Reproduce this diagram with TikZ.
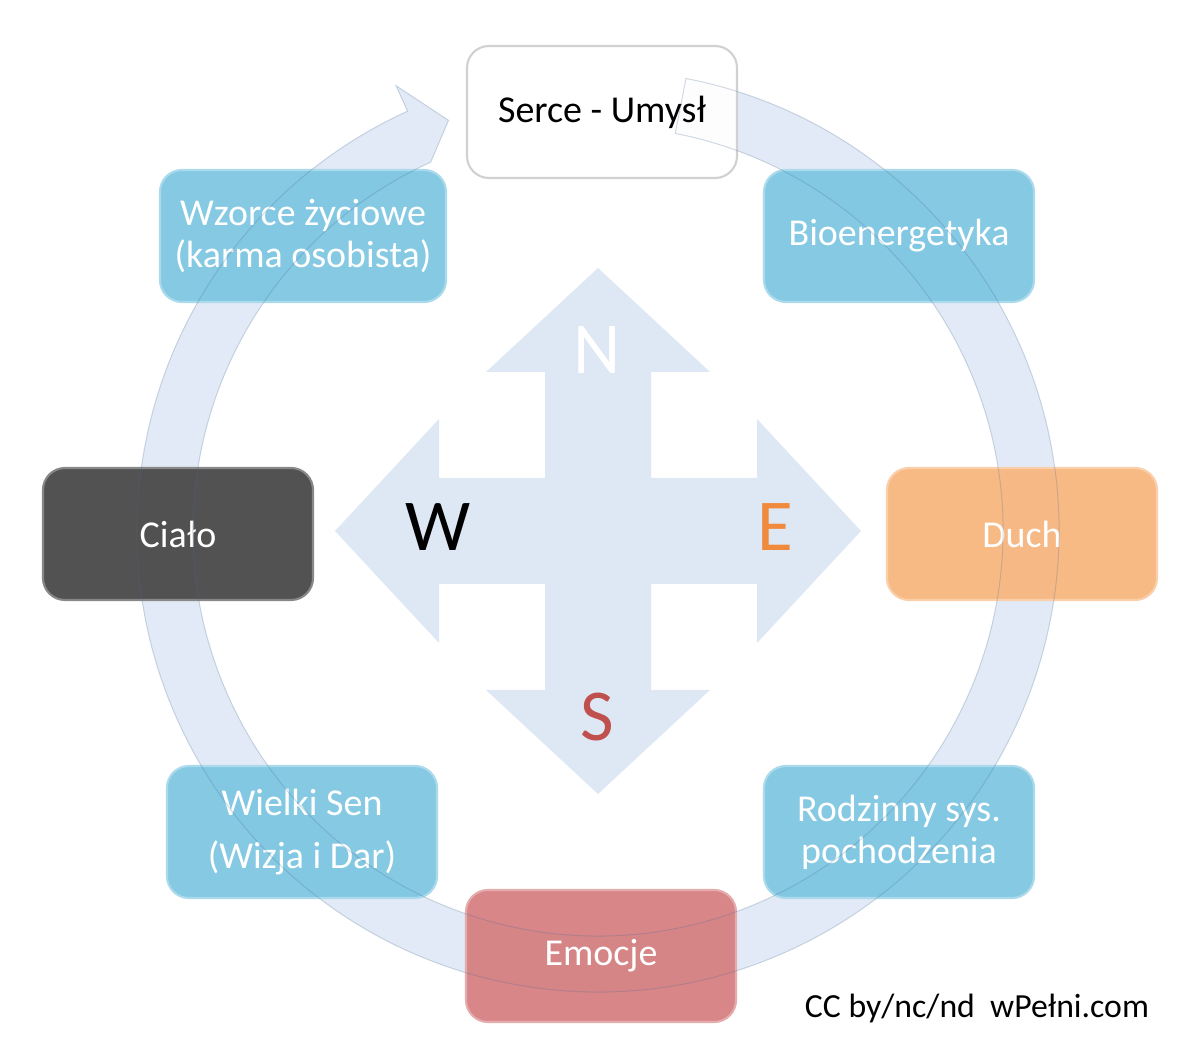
\documentclass[tikz,border=0pt]{standalone}
\usepackage{fontspec}
\setmainfont{Carlito}
\usepackage{tikz}
\usetikzlibrary{calc, positioning}

\definecolor{boxblue}{HTML}{7EC6E2}
\definecolor{boxgray}{HTML}{484848}
\definecolor{boxorange}{HTML}{F8B67E}
\definecolor{boxred}{HTML}{D67F81}
\definecolor{compassblue}{HTML}{DEE8F5}
\definecolor{bandblue}{HTML}{6A9AD2}
\definecolor{letterorange}{HTML}{F08A3C}
\definecolor{letterred}{HTML}{C0504D}

\tikzset{
	box/.style={rectangle, rounded corners=0.55cm, minimum width=6.75cm, minimum height=3.3cm,
		fill=#1, fill opacity=0.94, text opacity=1, draw=#1!65!white, line width=1.5pt, text=white, align=center,
		font=\fontsize{27}{30}\selectfont},
	letter/.style={font=\fontsize{52}{60}\selectfont, text=#1},
}
% outline of the circular arrow
\newcommand{\bandpath}{($(c)+(79:461)$) arc [start angle=79, end angle=-245.6, radius=461]
	-- ($(c)+(114.4:489)$) -- ($(c)+(110:437)$) -- ($(c)+(114.4:405)$)
	arc [start angle=-245.6, end angle=79, radius=405] -- cycle}

\begin{document}
\begin{tikzpicture} [x=0.025cm, y=0.025cm]
		\fill [white] (0,0) rectangle (1200,1062);
		\useasboundingbox (0,0) rectangle (1200,1062);
		\coordinate (c) at (598,531);
		% compass
		\foreach \a in {0,90,180,270}
			\fill [compassblue, shift={(c)}, rotate=\a] (0,-53) rectangle (159,53) (159,-112) -- (263,0) -- (159,112) -- cycle;
		\node (n) [letter=white] at (597,712) {N};
		\node (w) [letter=black] at (438,535) {W};
		\node (e) [letter=letterorange] at (775,535) {E};
		\node (s) [letter=letterred] at (597,345) {S};
		% circular arrow
		\fill [bandblue, fill opacity=0.2] \bandpath;
		% boxes
		\node (serce) [box=white, draw=black!18, text=black] at (602,950) {Serce - Umysł};
		\node (bio) [box=boxblue] at (899,826) {Bioenergetyka};
		\node (wzorce) [box=boxblue, minimum width=7.15cm] at (303,826) {Wzorce życiowe\\(karma osobista)};
		\node (cialo) [box=boxgray] at (178,528) {Ciało};
		\node (duch) [box=boxorange] at (1022,528) {Duch};
		\node (wielki) [box=boxblue] at (302,230) {Wielki Sen\\[7.7pt](Wizja i Dar)};
		\node (rodzinny) [box=boxblue] at (899,230) {Rodzinny sys.\\pochodzenia};
		\node (emocje) [box=boxred] at (601,106) {Emocje};
		\draw [bandblue!70!black, draw opacity=0.25, line width=0.7pt] \bandpath;
		\node (lic) [anchor=base west, font=\fontsize{24}{28}\selectfont] at (800,44) {CC by/nc/nd~~wPełni.com};
	\end{tikzpicture}
\end{document}
